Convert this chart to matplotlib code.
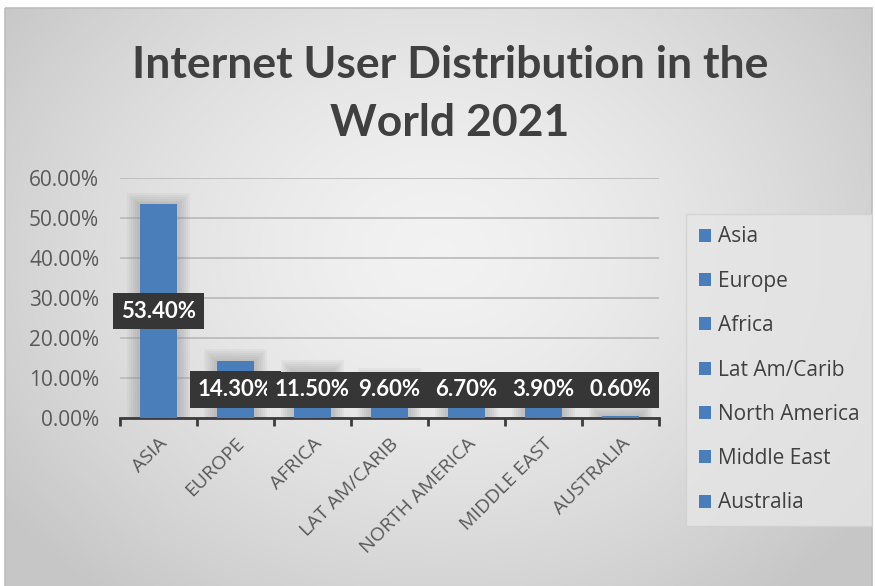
import matplotlib
matplotlib.use("Agg")
import matplotlib.pyplot as plt
from matplotlib.patches import Patch, Rectangle
import numpy as np

# data
categories = ["ASIA", "EUROPE", "AFRICA", "LAT AM/CARIB", "NORTH AMERICA",
              "MIDDLE EAST", "AUSTRALIA"]
legend_names = ["Asia", "Europe", "Africa", "Lat Am/Carib", "North America",
                "Middle East", "Australia"]
share = [0.534, 0.143, 0.115, 0.096, 0.067, 0.039, 0.006]
yticks = [0.0, 0.1, 0.2, 0.3, 0.4, 0.5, 0.6]

BLUE = "#4a7ebb"
TXT = "#595959"
SANS = ["Open Sans", "DejaVu Sans"]
plt.rcParams["font.family"] = SANS

W, H = 875, 586
fig = plt.figure(figsize=(W / 100, H / 100), dpi=100)
fig.patch.set_facecolor("white")

# background: radial gray gradient inside a framed chart area
bg = fig.add_axes([0, 0, 1, 1], zorder=-10)
bg.set_xlim(0, W)
bg.set_ylim(H, 0)
bg.axis("off")
gx, gy = np.meshgrid(np.linspace(0, 1, 300), np.linspace(0, 1, 200))
r = np.sqrt(((gx - 0.5) / 0.62) ** 2 + ((gy - 0.42) / 0.75) ** 2)
r = np.clip(r, 0, 1)
level = 0.95 - 0.17 * r ** 1.5
img = np.dstack([level, level, level])
bg.imshow(img, extent=(5, 872, 588, 8), aspect="auto", interpolation="bilinear")
bg.add_patch(Rectangle((5, 8), 867, 580, fill=False, edgecolor="#bdbdbd", lw=1.2))

# main chart
ax = fig.add_axes([120 / W, 1 - 418 / H, (659 - 120) / W, (418 - 178) / H])
ax.patch.set_alpha(0)
x = np.arange(len(categories))
vals = np.array(share)

# soft halo behind bars
for k in range(6):
    pad = 0.04 * (k + 1)
    ax.bar(x, vals + pad * 0.12, width=0.49 + pad * 1.4, color="#8a8a8a",
           alpha=0.08, zorder=1, linewidth=0)
ax.bar(x, vals, width=0.49, color=BLUE, zorder=3)

ax.set_xlim(-0.5, len(categories) - 0.5)
ax.set_ylim(0, 0.6)
ax.set_yticks(yticks)
ax.set_yticklabels([f"{v * 100:.2f}%" for v in yticks], fontsize=15, color=TXT)
ax.yaxis.grid(True, color="#bcbcbc", linewidth=1.3, zorder=0)
ax.set_axisbelow(True)
ax.tick_params(axis="y", length=0, pad=15)

ax.set_xticks(x)
ax.set_xticklabels(categories, rotation=45, ha="right", rotation_mode="anchor",
                   fontsize=14, color=TXT)
ax.set_xticks(np.arange(len(categories) + 1) - 0.5, minor=True)
ax.tick_params(axis="x", which="major", length=0, pad=12)
ax.tick_params(axis="x", which="minor", length=6, width=2, color="#3c3c3c")

for side in ["top", "right", "left"]:
    ax.spines[side].set_visible(False)
ax.spines["bottom"].set_color("#3c3c3c")
ax.spines["bottom"].set_linewidth(2)

# data labels: dark boxes, white bold text
label_y = np.maximum(vals / 2, 0.07)
for xi, v, ly in zip(x, vals, label_y):
    ax.text(xi, ly, f"{v * 100:.2f}%", ha="center", va="center",
            fontsize=16, fontweight="bold", color="white", zorder=6,
            family=["Lato", "DejaVu Sans"],
            bbox=dict(boxstyle="square,pad=0.35", facecolor="#363636",
                      edgecolor="none"))

# title
fig.text(450 / W, 1 - 94 / H, "Internet User Distribution in the\nWorld 2021",
         ha="center", va="center", fontsize=32, fontweight="bold",
         color="#404040", linespacing=1.55, family=["Lato", "DejaVu Sans"])

# legend
handles = [Patch(facecolor=BLUE, edgecolor="none") for _ in legend_names]
leg = fig.legend(handles, legend_names, loc="upper left",
                 bbox_to_anchor=(686 / W, 1 - 214 / H), fontsize=15,
                 labelcolor="#404040", frameon=True, fancybox=False,
                 handlelength=0.6, handleheight=0.6, handletextpad=0.35,
                 labelspacing=1.12, borderpad=0.6, borderaxespad=0)
leg.get_frame().set_facecolor("#e6e6e6")
leg.get_frame().set_edgecolor("#d0d0d0")

fig.savefig("out.png", dpi=100)
